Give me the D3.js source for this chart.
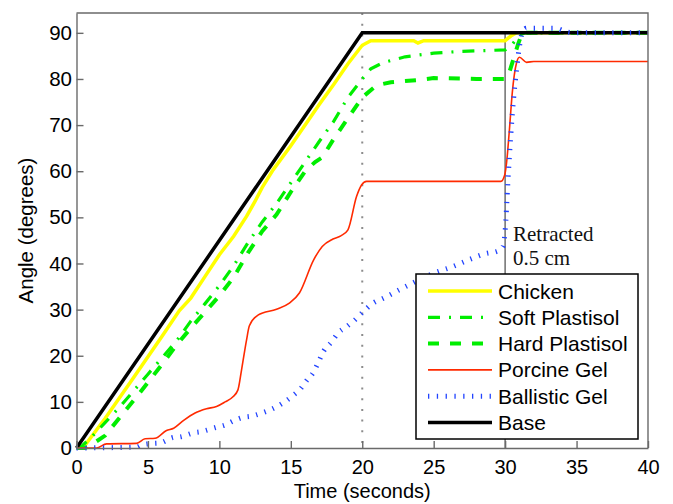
<!DOCTYPE html>
<html>
<head>
<meta charset="utf-8">
<script src="https://cdn.jsdelivr.net/npm/d3@7"></script>
<style>
  body { margin: 0; background: #fff; }
  text { font-family: "Liberation Sans", Arial, Helvetica, sans-serif; }
</style>
</head>
<body>
<div id="chart"></div>
<script>
// time (s) / angle (deg) pairs
const chickenT   = [0, 0.45, 2, 4, 6, 7.2, 8, 9, 10, 11, 11.9, 12.5, 13, 13.76, 15, 16, 17, 18, 19, 20, 20.6, 23.6, 23.9, 24.3, 30, 30.4, 30.8, 40];
const chickenDeg = [0, 0, 6.4, 15.3, 24.3, 29.8, 32.5, 37.2, 41.9, 45.9, 50.2, 53.5, 56.5, 60.3, 65.5, 70, 74.5, 78.8, 83.3, 87.3, 88.3, 88.3, 87.8, 88.3, 88.3, 89.3, 90, 90];

const softT   = [0, 0.4, 1, 2, 3, 4, 5, 6, 7, 8, 9, 10, 11, 12, 13, 14, 15, 16, 17, 18, 19, 20, 20.6, 21.5, 23, 25, 27, 30, 30.5, 31, 31.4, 40];
const softDeg = [0, 0.5, 2.2, 5.5, 8.8, 12.4, 16, 19.6, 23.2, 27.5, 31.3, 35.2, 39.5, 44.5, 49, 53, 57.5, 62, 66.5, 70.8, 76, 80, 82.2, 83.6, 84.8, 85.6, 86, 86.3, 87.5, 89.5, 90, 90];

const hardT   = [0, 0.6, 1, 2, 3, 4, 5, 6, 7, 8, 9, 10, 11, 12, 13, 14, 15, 16, 16.7, 17.2, 18, 19, 20, 21, 22, 24, 25, 28, 30, 30.3, 30.6, 30.9, 31.2, 40];
const hardDeg = [0, 0, 0.6, 2.7, 6.5, 10.3, 14.2, 18.2, 22.3, 26, 29.5, 33, 37, 42.3, 47, 50.6, 55.5, 60, 62, 63, 67, 71.5, 76, 78.6, 79.3, 79.8, 80.2, 80, 80, 81.5, 84.5, 87.5, 90, 90];

const porcineT   = [0, 1.4, 2.1, 4.2, 4.8, 5.5, 6.3, 6.8, 7.5, 8.3, 9.1, 9.8, 10.4, 10.95, 11.3, 11.55, 11.9, 12.1, 12.7, 14, 14.9, 15.6, 16.6, 17.2, 17.95, 18.5, 19, 19.6, 19.95, 20.3, 29.7, 29.97, 30.1, 30.3, 30.5, 30.8, 31, 31.5, 32, 40];
const porcineDeg = [0, 0, 0.9, 1, 2, 2.1, 3.8, 4.3, 6, 7.6, 8.5, 9, 10, 11.1, 12.6, 16.9, 23.4, 26.5, 28.8, 30.1, 31.4, 33.6, 40.8, 43.7, 45.3, 46, 47.3, 54.5, 57, 57.8, 57.8, 59.2, 61.8, 69, 77, 83.5, 84.7, 83.6, 83.8, 83.8];

const ballisticT   = [0, 4.2, 4.56, 5.4, 5.84, 6.8, 7.24, 8.2, 8.64, 9.8, 10.4, 11, 11.6, 12.25, 12.9, 13.5, 14.1, 14.7, 15.2, 15.7, 16.1, 16.6, 16.9, 17.3, 17.85, 18.3, 18.9, 19.5, 20.05, 20.75, 21.5, 22.6, 23.3, 25, 26.3, 27.7, 28.7, 29.4, 29.85, 30, 30.2, 30.4, 30.6, 30.8, 31, 31.2, 31.5, 33.5, 34.3, 35, 40];
const ballisticDeg = [0, 0.2, 0.65, 1, 1.1, 2.3, 2.4, 3.3, 3.5, 4.5, 5, 5.9, 6.6, 6.9, 7.5, 8.2, 9.1, 10.3, 11.5, 12.9, 14.6, 16.5, 18.4, 21, 23, 24.9, 26.3, 27.8, 29.5, 31.4, 32.5, 34.3, 35.4, 37.9, 39.3, 41.1, 42.2, 42.6, 43.7, 47, 58, 68, 76, 82, 87, 90, 91, 91, 90.2, 90, 90];

const baseT   = [0, 20, 40];
const baseDeg = [0, 90, 90];

const xTicks = [0, 5, 10, 15, 20, 25, 30, 35, 40];
const yTicks = [0, 10, 20, 30, 40, 50, 60, 70, 80, 90];

const width = 673;
const height = 504;
const margin = { top: 13, right: 25, bottom: 56, left: 76.5 };

const svg = d3.select('#chart')
  .append('svg')
  .attr('width', width)
  .attr('height', height);

const x = d3.scaleLinear()
  .domain([0, 40])
  .range([margin.left, width - margin.right]);

const y = d3.scaleLinear()
  .domain([0, 94.3])
  .range([height - margin.bottom, margin.top]);

const axisGrey = '#6a6a6a';

// marker lines: end of ramp (dotted) and retraction (solid)
svg.append('line')
  .attr('x1', x(20)).attr('x2', x(20))
  .attr('y1', y(94.3)).attr('y2', y(0))
  .attr('stroke', '#8c8c8c')
  .attr('stroke-width', 2)
  .attr('stroke-dasharray', '2,8.7');

svg.append('line')
  .attr('x1', x(30)).attr('x2', x(30))
  .attr('y1', y(90)).attr('y2', y(0))
  .attr('stroke', '#777')
  .attr('stroke-width', 1.6);

const zip = (t, v) => t.map((d, i) => [d, v[i]]);

const series = [
  { name: 'Chicken', data: zip(chickenT, chickenDeg), color: '#ffff00', w: 3.5, dash: null, curve: d3.curveLinear },
  { name: 'Soft Plastisol', data: zip(softT, softDeg), color: '#00ee00', w: 3.2, dash: '12,9,2,9', curve: d3.curveLinear },
  { name: 'Hard Plastisol', data: zip(hardT, hardDeg), color: '#00ee00', w: 4, dash: '11,11', curve: d3.curveLinear },
  { name: 'Porcine Gel', data: zip(porcineT, porcineDeg), color: '#ff2a00', w: 1.6, dash: null, curve: d3.curveMonotoneX },
  { name: 'Ballistic Gel', data: zip(ballisticT, ballisticDeg), color: '#2244ff', w: 5, dash: '1.3,7.5', curve: d3.curveMonotoneX },
  { name: 'Base', data: zip(baseT, baseDeg), color: '#000', w: 3.5, dash: null, curve: d3.curveLinear }
];

// draw order: greens and yellow under the base, red and blue on top
const drawOrder = [0, 1, 2, 5, 3, 4];
drawOrder.forEach(i => {
  const s = series[i];
  const line = d3.line()
    .x(d => x(d[0]))
    .y(d => y(d[1]))
    .curve(s.curve);
  svg.append('path')
    .datum(s.data)
    .attr('fill', 'none')
    .attr('stroke', s.color)
    .attr('stroke-width', s.w)
    .attr('stroke-dasharray', s.dash)
    .attr('d', line);
});

// axes
function xAxis(g) {
  g.attr('transform', `translate(0,${y(0)})`)
    .call(d3.axisBottom(x).tickValues(xTicks).tickSizeInner(-7).tickSizeOuter(0).tickPadding(12))
    .attr('font-size', '20px');
  g.select('.domain').attr('stroke', axisGrey).attr('stroke-width', 1.4);
  g.selectAll('.tick line').attr('stroke', axisGrey).attr('stroke-width', 1.4);
  g.selectAll('.tick text').attr('fill', '#000');
}

function yAxis(g) {
  g.attr('transform', `translate(${x(0)},0)`)
    .call(d3.axisLeft(y).tickValues(yTicks).tickSizeInner(-7).tickSizeOuter(0).tickPadding(4.5))
    .attr('font-size', '20.5px');
  g.select('.domain').attr('stroke', axisGrey).attr('stroke-width', 1.4);
  g.selectAll('.tick line').attr('stroke', axisGrey).attr('stroke-width', 1.4);
  g.selectAll('.tick text').attr('fill', '#000');
}

svg.append('g').call(xAxis);
svg.append('g').call(yAxis);

// top and right box edges
svg.append('path')
  .attr('d', `M${x(0)},${y(94.3)}H${x(40)}V${y(0)}`)
  .attr('fill', 'none')
  .attr('stroke', axisGrey)
  .attr('stroke-width', 1.4);

// axis labels
svg.append('text')
  .attr('text-anchor', 'middle')
  .attr('x', (x(0) + x(40)) / 2)
  .attr('y', 498)
  .attr('font-size', '20px')
  .text('Time (seconds)');

svg.append('text')
  .attr('text-anchor', 'middle')
  .attr('transform', `translate(33,${(y(0) + y(94.3)) / 2}) rotate(-90)`)
  .attr('font-size', '20.5px')
  .text('Angle (degrees)');

// annotation
const note = svg.append('text')
  .style('font-family', '"Liberation Serif", "Times New Roman", serif')
  .attr('font-size', '21px')
  .attr('fill', '#111');
note.append('tspan').attr('x', 513).attr('y', 241).text('Retracted');
note.append('tspan').attr('x', 513).attr('y', 265).text('0.5 cm');

// legend
const legend = svg.append('g');
legend.append('rect')
  .attr('x', 416).attr('y', 274)
  .attr('width', 222).attr('height', 165)
  .attr('fill', '#fff')
  .attr('stroke', '#000')
  .attr('stroke-width', 1.5);

series.forEach((s, i) => {
  const ly = 291 + i * 26.3;
  legend.append('line')
    .attr('x1', 428).attr('x2', 492)
    .attr('y1', ly).attr('y2', ly)
    .attr('stroke', s.color)
    .attr('stroke-width', s.w)
    .attr('stroke-dasharray', s.dash);
  legend.append('text')
    .attr('x', 498)
    .attr('y', ly + 7.5)
    .attr('font-size', '21px')
    .text(s.name);
});
</script>
</body>
</html>
